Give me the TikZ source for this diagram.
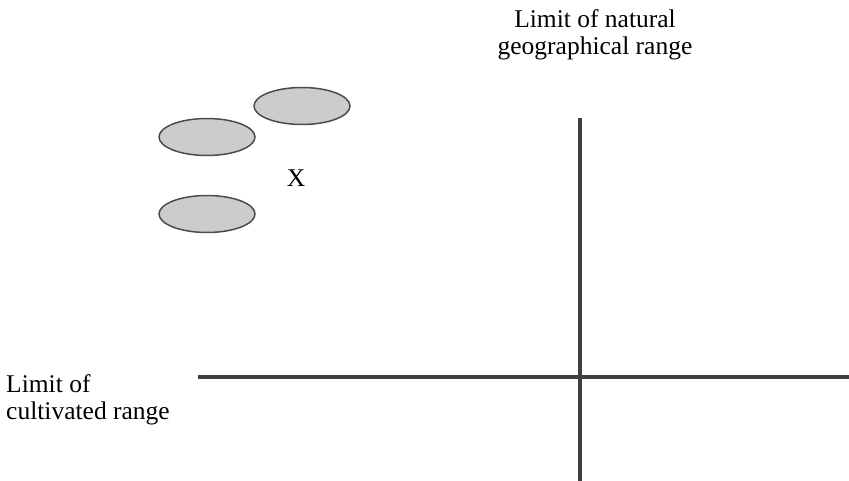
\documentclass[tikz,border=0pt]{standalone}
\usepackage{fontspec}
\setmainfont{Liberation Serif}
\usetikzlibrary{shapes.geometric}
\begin{document}
\begin{tikzpicture}[x=1pt,y=-1pt,
  axis/.style={line width=3.5pt,draw=black!75},
  blob/.style={ellipse,draw=black!70,line width=1.5pt,fill=black!20,minimum width=96pt,minimum height=37pt,inner sep=0pt},
  lbl/.style={font=\fontsize{25.5}{27}\selectfont,inner sep=0pt}]
\useasboundingbox (0,0) rectangle (849,481);
\coordinate (vtop) at (580,118);
\coordinate (vbot) at (580,481);
\coordinate (hl) at (198,377);
\coordinate (hr) at (849,377);
\draw[axis] (vtop) -- (vbot);
\draw[axis] (hl) -- (hr);
\node[blob] (e1) at (302,106) {};
\node[blob] (e2) at (207,137) {};
\node[blob] (e3) at (207,214) {};
\node[lbl,anchor=base] (x) at (296,187) {X};
\node[lbl,anchor=base] (nat1) at (595,28) {Limit of natural};
\node[lbl,anchor=base] (nat2) at (595,55) {geographical range};
\node[lbl,anchor=base west] (cult1) at (6,392) {Limit of};
\node[lbl,anchor=base west] (cult2) at (6,419) {cultivated range};
\end{tikzpicture}
\end{document}
